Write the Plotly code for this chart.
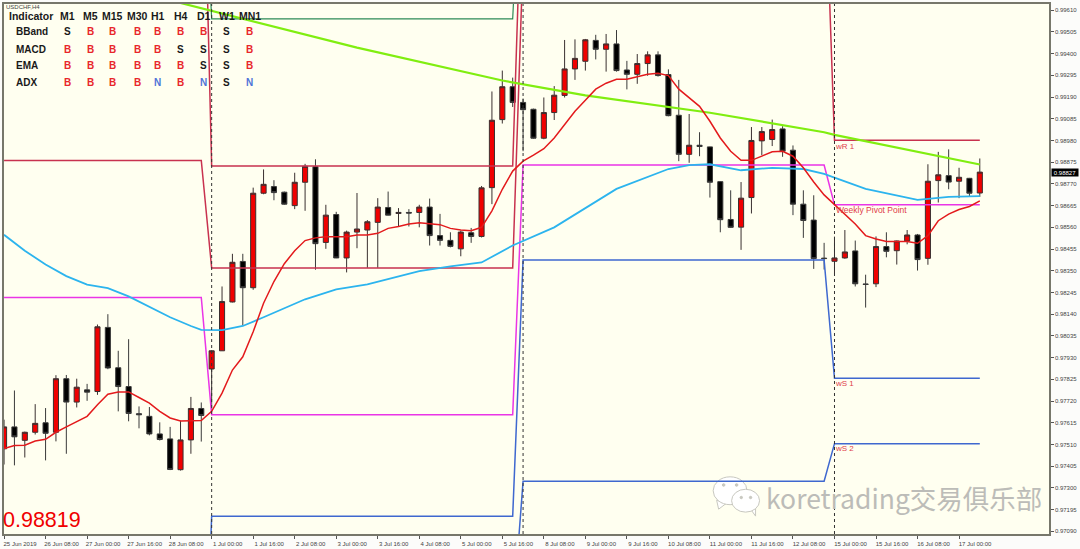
import plotly.graph_objects as go

# ---------- prices, in 1/100000 (MT4 points) ----------
open_pts = [97489,97595,97530,97569,97615,97569,97828,97715,97774,97766,
98076,97881,97790,97659,97646,97561,97537,97388,97532,97684,
97875,97963,98199,98395,98268,98725,98757,98730,98665,98778,
98853,98487,98622,98412,98537,98547,98584,98656,98627,98632,
98632,98658,98520,98497,98456,98534,98516,98752,99081,99240,
99164,99131,98991,99115,99198,99326,99363,99464,99421,99447,
99321,99300,99352,99394,99299,99102,98913,98957,98949,98781,
98598,98561,98704,98978,98985,99036,98933,98672,98595,98411,
98396,98412,98446,98286,98287,98467,98447,98494,98523,98410,
98786,98810,98783,98797,98726]
close_pts = [97595,97547,97569,97612,97564,97828,97715,97787,97763,98079,
97880,97790,97660,97654,97561,97534,97389,97532,97684,97650,
97963,98201,98391,98268,98725,98768,98728,98672,98778,98855,
98481,98619,98412,98537,98552,98587,98658,98619,98632,98629,
98658,98520,98497,98468,98537,98516,98751,99078,99240,99164,
99129,98991,99115,99199,99326,99377,99467,99421,99447,99318,
99300,99352,99394,99294,99100,98913,98957,98951,98778,98597,
98560,98701,98980,99023,99033,98928,98672,98593,98409,98409,
98412,98441,98287,98284,98467,98444,98494,98523,98404,98783,
98814,98779,98802,98725,98827]
high_pts = [97630,97771,97572,97705,97686,97845,97846,97828,97803,98090,
98140,97963,98019,97694,97691,97617,97595,97625,97740,97713,
97966,98274,98432,98432,98752,98840,98788,98733,98824,98867,
98889,98669,98635,98544,98726,98595,98701,98733,98653,98648,
98669,98699,98625,98536,98544,98557,98760,99217,99318,99284,
99183,99134,99188,99243,99466,99469,99471,99491,99495,99514,
99365,99398,99411,99411,99324,99273,99108,99020,98950,98784,
98739,98779,99045,99045,99081,99049,98956,98739,98715,98485,
98515,98547,98496,98331,98516,98536,98496,98547,98528,98865,
98925,98937,98848,98799,98893]
low_pts = [97413,97409,97447,97558,97433,97525,97465,97689,97721,97750,
97874,97670,97622,97588,97554,97529,97386,97384,97465,97524,
97678,97962,98197,98087,98258,98720,98691,98669,98648,98640,
98355,98456,98411,98342,98459,98364,98364,98618,98564,98564,
98560,98472,98472,98463,98420,98485,98511,98672,99062,99142,
98928,98988,98986,99079,99188,99273,99318,99372,99313,99313,
99227,99254,99293,99289,99097,98880,98872,98904,98704,98536,
98558,98451,98627,98909,98953,98901,98619,98509,98359,98356,
98335,98408,98274,98172,98271,98415,98380,98478,98351,98379,
98680,98744,98701,98707,98707]
ema_fast_pts = [97490,97505,97506,97527,97535,97569,97595,97622,97646,97702,
97753,97764,97764,97737,97710,97670,97638,97624,97626,97626,
97670,97758,97870,97934,98055,98193,98298,98384,98447,98496,
98509,98515,98515,98515,98523,98523,98531,98555,98564,98576,
98582,98579,98573,98555,98547,98544,98560,98640,98744,98832,
98880,98909,98940,98992,99057,99121,99175,99228,99257,99276,
99276,99289,99300,99305,99294,99228,99185,99145,99073,98992,
98928,98884,98884,98904,98925,98928,98904,98848,98779,98717,
98669,98624,98576,98520,98504,98492,98491,98491,98483,98520,
98592,98624,98646,98661,98688]
ema_mid_bars = [0,2,4,6,8,10,12,14,16,18,19,21,23,25,29,32,35,40,43,46,48,49,53,59,64,66,68,71,74,77,79,80,83,88,91,94]
ema_mid_pts = [98524,98447,98380,98324,98283,98266,98226,98175,98125,98083,98064,98063,98083,98125,98212,98260,98284,98348,98371,98390,98443,98472,98560,98746,98842,98861,98865,98836,98848,98842,98818,98800,98746,98693,98707,98711]
ma_slow_bars = [15,17,34,48,56,64,68,79,80,94]
ma_slow_pts = [99674,99645,99429,99270,99198,99140,99114,99020,99007,98864]

# weekly levels: value per week, held over the bars of the week
week_bars = [0,19,20,49,50,79,80,94]
level_a = [98883,98883,98363,98363,99866,99866,99866,99866]
level_b = [100901,100901,98856,98856,100420,100420,98981,98981]
pivot = [98221,98221,97654,97654,98861,98861,98669,98669]
support_1 = [95802,95802,97163,97163,98402,98402,97830,97830]
support_2_bars = [49,50,79,80,94]
support_2 = [96668,97332,97332,97514,97514]
green_bars = [19,20,49,50]
green_level = [100612,99568,99568,100612]
separators = [20,50,80]

tick_bars = list(range(0,93,4))
tick_text = ["25 Jun 2019","26 Jun 08:00","27 Jun 00:00","27 Jun 16:00","28 Jun 08:00","1 Jul 00:00",
"1 Jul 16:00","2 Jul 08:00","3 Jul 00:00","3 Jul 16:00","4 Jul 08:00","5 Jul 00:00","5 Jul 16:00",
"8 Jul 08:00","9 Jul 00:00","9 Jul 16:00","10 Jul 08:00","11 Jul 00:00","11 Jul 16:00","12 Jul 08:00",
"15 Jul 00:00","15 Jul 16:00","16 Jul 08:00","17 Jul 00:00"]
price_ticks = ["0.97090","0.97195","0.97300","0.97405","0.97510","0.97615","0.97720","0.97825","0.97930",
"0.98035","0.98140","0.98245","0.98350","0.98455","0.98560","0.98665","0.98770","0.98875","0.98980",
"0.99085","0.99190","0.99295","0.99400","0.99505","0.99610"]

table_cols = ["M1","M5","M15","M30","H1","H4","D1","W1","MN1"]
table_rows = {"BBand":list("SBBBBBBSB"),"MACD":list("BBBBBSSSB"),"EMA":list("BBBBBBSSB"),"ADX":list("BBBBNBNSN")}
signal_colors = {"B":"#e8262a","S":"#1a1a1a","N":"#4f74d8"}

def pr(v): return [x/1e5 for x in v]

FONT = "Liberation Sans"
L, R, T, B = 2, 1049, 2, 535
W, H = 1080, 549
def px(x): return (x-L)/(R-L)
def py(y): return 1-(y-T)/(B-T)

bars = list(range(len(open_pts)))
fig = go.Figure()
def line(xs, ys, color, width=1.5):
    fig.add_trace(go.Scatter(x=xs, y=pr(ys), mode="lines", line=dict(color=color, width=width), hoverinfo="skip", showlegend=False))

line(green_bars, green_level, "#2e8b57", 1.2)
line(week_bars, level_a, "#c8324f")
line(week_bars, level_b, "#c8324f")
line(week_bars, pivot, "#ea35e6")
line(week_bars, support_1, "#3f68cf")
line(support_2_bars, support_2, "#3f68cf")
line(ma_slow_bars, ma_slow_pts, "#80ee10", 2.2)
line(ema_mid_bars, ema_mid_pts, "#2cb4ee", 1.8)
line(bars, ema_fast_pts, "#e31a1c")

fig.add_trace(go.Candlestick(x=bars, open=pr(open_pts), high=pr(high_pts), low=pr(low_pts), close=pr(close_pts),
    increasing=dict(fillcolor="#f00000", line=dict(color="#3a3030", width=1)),
    decreasing=dict(fillcolor="#000000", line=dict(color="#3a3a3a", width=1)),
    showlegend=False, hoverinfo="skip"))

ann = []
def text(x, y, s, size, color="#1a1a1a", anchor="center", bold=False, fam=FONT, **kw):
    ann.append(dict(x=px(x), y=py(y), xref="paper", yref="paper", text=f"<b>{s}</b>" if bold else s, showarrow=False,
                    xanchor=anchor, yanchor="middle", font=dict(family=fam, size=size, color=color), borderpad=0, **kw))

text(3, 5, "USDCHF,H4", 6, "#444444", "left")
text(6.5, 14, "Indicator", 10.5, anchor="left", bold=True)
col_x = [65.7,88.3,111,136,156,179,202,225,248]
for c, x in zip(table_cols, col_x):
    text(x, 14, c, 10.5, bold=True)
for r, (name, vals) in zip([30,47.3,64.3,81], table_rows.items()):
    text(13, r, name, 10, anchor="left", bold=True)
    for x, v in zip(col_x, vals):
        text(x, r, v, 10, signal_colors[v], bold=True)

text(-0.5, 521, "0.98819", 21.5, "#f00000", "left")
text(834, 145, "wR 1", 8, "#e0404a", "left")
text(834.5, 209, "Weekly Pivot Point", 8.5, "#e0404a", "left")
text(834, 384, "wS 1", 8, "#e0404a", "left")
text(834, 449, "wS 2", 8, "#e0404a", "left")
text(764, 498, "koretrading交易俱乐部", 26.5, "#bcbcb8", "left", fam="Noto Sans CJK SC")
ann.append(dict(x=1.0015, y=0.98825, xref="paper", yref="y", text="0.98827", showarrow=False, xanchor="left", yanchor="middle",
                bgcolor="#000000", font=dict(family=FONT, size=6, color="#ffffff"), width=26, height=7, borderpad=0))

shapes = [dict(type="line", xref="x", yref="paper", x0=s, x1=s, y0=0, y1=1, line=dict(color="#333333", width=1, dash="dot")) for s in separators]
def ell(cx, cy, rx, ry, fill="#ffffff", lc="#c8c8c0"):
    shapes.append(dict(type="circle", xref="paper", yref="paper", x0=px(cx-rx), x1=px(cx+rx), y0=py(cy+ry), y1=py(cy-ry),
                       fillcolor=fill, line=dict(color=lc, width=1), layer="below"))
def tail(pts):
    d = "M " + " L ".join(f"{px(a):.5f} {py(b):.5f}" for a, b in pts) + " Z"
    shapes.append(dict(type="path", xref="paper", yref="paper", path=d, fillcolor="#ffffff", line=dict(color="#c8c8c0", width=1), layer="below"))
tail([(716,501),(718,510),(726,504)])
ell(729.5,491.5,17,14)
tail([(750,510),(755,517),(755,507)])
ell(745,501.5,14,11.5)
for a, b, r in [(723,485.7,1.3),(736,485.7,1.3),(740.7,498.3,1.2),(750,498.3,1.2)]:
    ell(a, b, r, r, "#c8c8c0", "#c8c8c0")

axis = dict(showline=True, linecolor="#77776b", linewidth=1.5, mirror=True, ticks="outside", ticklen=3, tickwidth=1,
            tickcolor="#555555", showgrid=False, zeroline=False, tickfont=dict(family=FONT, size=6, color="#444444"))
fig.update_layout(
    width=W, height=H, margin=dict(l=L, r=W-R, t=T, b=H-B), autosize=False,
    paper_bgcolor="#fcfcfa", plot_bgcolor="#fffff0", showlegend=False,
    xaxis=dict(axis, range=[-0.005,100.665], rangeslider=dict(visible=False), tickmode="array", tickvals=tick_bars, ticktext=tick_text,
               ticklabelshift=16, tickangle=0),
    yaxis=dict(axis, side="right", range=[0.97077,0.99640], tickmode="array", tickvals=[float(t) for t in price_ticks], ticktext=price_ticks),
    annotations=ann, shapes=shapes)
fig.write_html("out.html", config=dict(displayModeBar=False), post_script="document.body.style.margin='0';")
